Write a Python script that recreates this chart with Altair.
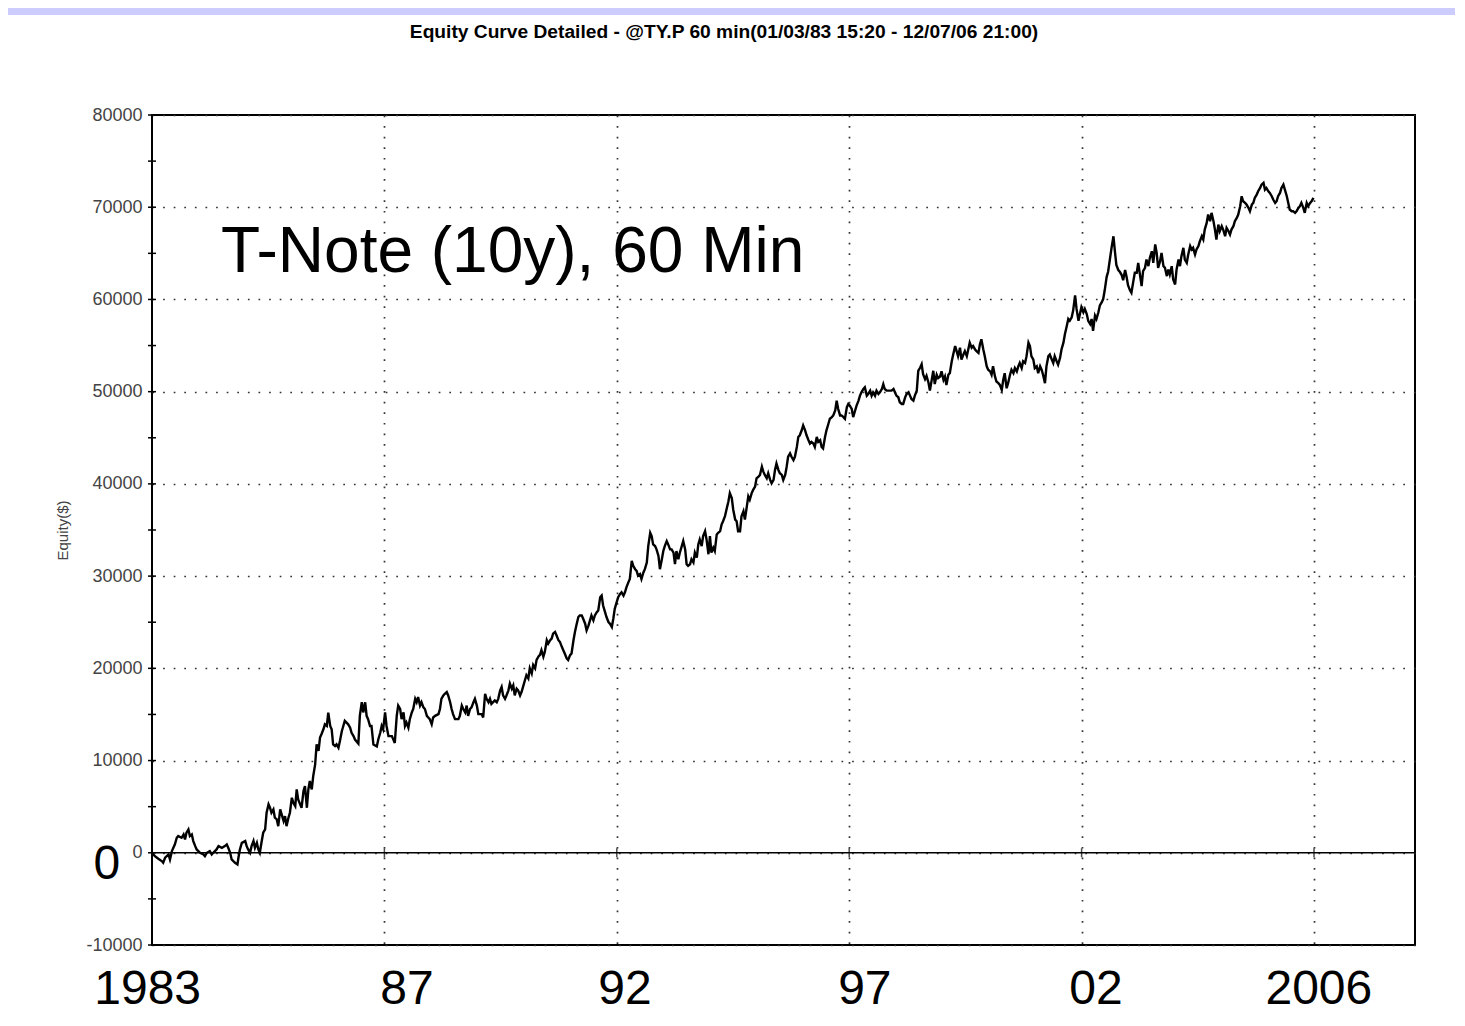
import altair as alt
import pandas as pd

# ---------------- data ----------------
years_a = [1983.00, 1983.06, 1983.13, 1983.20, 1983.23, 1983.27, 1983.34, 1983.37, 1983.41, 1983.44,
           1983.47, 1983.51, 1983.54, 1983.61, 1983.65, 1983.68, 1983.71, 1983.75, 1983.78, 1983.82,
           1983.85, 1983.89, 1983.92, 1983.99, 1984.06, 1984.09, 1984.13, 1984.19, 1984.23, 1984.26,
           1984.33, 1984.37, 1984.44, 1984.50, 1984.54, 1984.57, 1984.61, 1984.64, 1984.71, 1984.76,
           1984.78, 1984.81, 1984.85, 1984.92, 1984.95, 1984.98, 1985.02, 1985.05, 1985.09, 1985.12,
           1985.16, 1985.19, 1985.22, 1985.26, 1985.29, 1985.33, 1985.36, 1985.40, 1985.43, 1985.46,
           1985.50, 1985.53, 1985.57, 1985.60, 1985.64, 1985.67, 1985.71, 1985.74, 1985.77, 1985.81,
           1985.84, 1985.88, 1985.91, 1985.95, 1985.98, 1986.01, 1986.08, 1986.12, 1986.15, 1986.19,
           1986.22, 1986.25, 1986.29, 1986.32, 1986.36, 1986.39, 1986.43, 1986.46, 1986.49, 1986.53,
           1986.56, 1986.60, 1986.63, 1986.67, 1986.70, 1986.73, 1986.77, 1986.80, 1986.84, 1986.87,
           1986.91, 1986.94]
equity_a = [0, -370, -650, -900, -1080, -540, -180, -720, 180, 540,
            900, 1630, 1810, 1630, 1990, 1450, 2170, 2530, 1810, 1990,
            1270, 720, 360, 0, -180, -370, 0, 180, -180, 0,
            360, 720, 540, 720, 900, 540, 0, -720, -1080, -1270,
            -540, 360, 1080, 1270, 720, 360, 0, 720, 1270, 540,
            1080, 360, 0, 1270, 2170, 2530, 4340, 5250, 4880, 4340,
            4700, 3800, 3620, 2890, 4700, 4160, 3440, 3980, 2890, 3800,
            4340, 5970, 5430, 5060, 6870, 5790, 4880, 6690, 7240, 4880,
            6870, 7780, 6870, 8320, 9590, 11760, 11040, 12490, 12850, 13390,
            13930, 13750, 15200, 13750, 13390, 11760, 11580, 11760, 11400, 12120,
            13210, 13750]

years_b = [1986.97, 1987.04, 1987.08, 1987.11, 1987.15, 1987.18, 1987.25, 1987.28, 1987.32, 1987.35,
           1987.39, 1987.42, 1987.45, 1987.49, 1987.52, 1987.56, 1987.63, 1987.66, 1987.70, 1987.73,
           1987.76, 1987.80, 1987.83, 1987.87, 1987.94, 1988.00, 1988.04, 1988.07, 1988.11, 1988.14,
           1988.18, 1988.21, 1988.24, 1988.28, 1988.31, 1988.35, 1988.38, 1988.42, 1988.45, 1988.48,
           1988.52, 1988.55, 1988.59, 1988.62, 1988.66, 1988.69, 1988.72, 1988.76, 1988.79, 1988.83,
           1988.90, 1988.93, 1988.96, 1989.00, 1989.03, 1989.07, 1989.10, 1989.14, 1989.17, 1989.20,
           1989.24, 1989.31, 1989.34, 1989.38, 1989.41, 1989.45, 1989.48, 1989.51, 1989.55, 1989.58,
           1989.62, 1989.65, 1989.69, 1989.72, 1989.79, 1989.82, 1989.86, 1989.89, 1989.93, 1989.96,
           1989.99, 1990.06, 1990.10, 1990.13, 1990.17, 1990.20, 1990.23, 1990.27, 1990.30, 1990.34,
           1990.37, 1990.41, 1990.44, 1990.47, 1990.51, 1990.54, 1990.58, 1990.61, 1990.65, 1990.68,
           1990.71, 1990.75, 1990.78, 1990.82, 1990.85, 1990.89, 1990.92, 1990.96, 1990.99]
equity_b = [14300, 13930, 13570, 13010, 12650, 12280, 11840, 14850, 16320, 15220,
            16320, 14850, 14490, 13750, 13750, 11730, 11540, 12280, 13010, 13750,
            13380, 15220, 13750, 12650, 12650, 11910, 14850, 15960, 15590, 14490,
            15220, 13750, 14120, 13570, 14490, 15220, 15590, 16690, 16320, 16880,
            15960, 16320, 15770, 15590, 14850, 14670, 14490, 13930, 14670, 14850,
            15040, 15590, 16690, 17060, 17240, 17430, 17060, 16320, 15590, 15040,
            14490, 14490, 14850, 15960, 15590, 15220, 15960, 14850, 15590, 15770,
            16320, 16690, 15960, 15040, 15040, 14670, 17240, 16690, 16320, 16690,
            16140, 16510, 16320, 16690, 17610, 17980, 17060, 16690, 17060, 17610,
            18350, 17790, 18160, 17060, 17790, 17610, 17060, 17430, 18160, 18710,
            19260, 18900, 20000, 19450, 20370, 20000, 20920, 21290, 21470]

years_c = [1991.02, 1991.06, 1991.09, 1991.13, 1991.16, 1991.20, 1991.23, 1991.26, 1991.30, 1991.33,
           1991.37, 1991.40, 1991.44, 1991.47, 1991.50, 1991.54, 1991.57, 1991.61, 1991.64, 1991.68,
           1991.71, 1991.74, 1991.78, 1991.81, 1991.85, 1991.88, 1991.92, 1991.95, 1991.99, 1992.02,
           1992.05, 1992.09, 1992.12, 1992.16, 1992.19, 1992.23, 1992.26, 1992.29, 1992.33, 1992.36,
           1992.40, 1992.43, 1992.47, 1992.50, 1992.53, 1992.57, 1992.60, 1992.64, 1992.67, 1992.71,
           1992.74, 1992.77, 1992.81, 1992.84, 1992.88, 1992.91, 1992.95, 1992.98, 1993.01, 1993.05,
           1993.08, 1993.12, 1993.15, 1993.19, 1993.22, 1993.26, 1993.29, 1993.32, 1993.36, 1993.39,
           1993.43, 1993.46, 1993.50, 1993.53, 1993.56, 1993.60, 1993.63, 1993.67, 1993.70, 1993.74,
           1993.77, 1993.80, 1993.84, 1993.87, 1993.91, 1993.94, 1993.98, 1994.01, 1994.04, 1994.08,
           1994.11, 1994.15, 1994.18, 1994.22, 1994.25, 1994.28, 1994.32, 1994.35, 1994.39, 1994.42,
           1994.46, 1994.49, 1994.52, 1994.56, 1994.59, 1994.63, 1994.66, 1994.70, 1994.73, 1994.76,
           1994.80, 1994.83, 1994.87, 1994.90, 1994.94, 1994.97, 1995.01, 1995.04, 1995.07, 1995.11]
equity_c = [21970, 21250, 21790, 23050, 22690, 23050, 23230, 23760, 23940, 23580,
            23050, 22870, 22330, 21970, 21610, 21080, 20900, 21430, 21610, 23050,
            23940, 24660, 25560, 25730, 25730, 25380, 24840, 24120, 24660, 25200,
            25730, 25200, 25730, 26090, 26270, 27710, 27890, 26810, 26090, 25560,
            25020, 24840, 24480, 25380, 26450, 27170, 27710, 28060, 28240, 27890,
            28240, 28780, 29320, 29680, 31650, 31110, 30750, 30570, 30040, 30220,
            29680, 30390, 30750, 31470, 33260, 34700, 34340, 33440, 33260, 32900,
            32190, 30750, 31830, 32720, 33260, 33800, 33440, 32900, 32900, 32540,
            31290, 32720, 31830, 32540, 33260, 33800, 32900, 31290, 31110, 31290,
            31830, 31470, 32540, 32010, 33440, 33980, 33260, 34340, 34870, 33980,
            32370, 34340, 32540, 33080, 32720, 34520, 34700, 34870, 35590, 35950,
            36490, 37200, 38100, 39000, 38460, 37200, 36130, 35950, 34870, 34870]

years_d = [1995.14, 1995.18, 1995.21, 1995.25, 1995.28, 1995.31, 1995.35, 1995.38, 1995.42, 1995.45,
           1995.49, 1995.52, 1995.56, 1995.59, 1995.62, 1995.66, 1995.69, 1995.73, 1995.76, 1995.80,
           1995.83, 1995.86, 1995.90, 1995.93, 1995.97, 1996.00, 1996.04, 1996.07, 1996.10, 1996.14,
           1996.17, 1996.21, 1996.24, 1996.28, 1996.31, 1996.34, 1996.38, 1996.41, 1996.45, 1996.48,
           1996.52, 1996.55, 1996.58, 1996.62, 1996.65, 1996.69, 1996.72, 1996.76, 1996.79, 1996.82,
           1996.86, 1996.89, 1996.93, 1996.96, 1997.00, 1997.03, 1997.07, 1997.10, 1997.13, 1997.17,
           1997.20, 1997.24, 1997.27, 1997.31, 1997.34, 1997.37, 1997.41, 1997.44, 1997.48, 1997.51,
           1997.55, 1997.58, 1997.61, 1997.65, 1997.68, 1997.72, 1997.75, 1997.79, 1997.82, 1997.85,
           1997.89, 1997.92, 1997.96, 1997.99, 1998.03, 1998.06, 1998.09, 1998.13, 1998.16, 1998.23,
           1998.27, 1998.30, 1998.33, 1998.37, 1998.40, 1998.44, 1998.47, 1998.51, 1998.54, 1998.58,
           1998.61, 1998.64, 1998.68, 1998.71, 1998.75, 1998.78, 1998.82, 1998.85, 1998.88, 1998.92,
           1998.95, 1998.99, 1999.02, 1999.06, 1999.09, 1999.12]
equity_d = [36490, 37030, 36130, 37560, 38640, 38280, 39000, 39350, 39710, 40610,
            40790, 40970, 41860, 41330, 40970, 40610, 41150, 40430, 40070, 40430,
            41510, 42220, 41510, 41150, 40970, 40430, 40970, 41860, 42940, 43300,
            42940, 42580, 42940, 44010, 45090, 45270, 45810, 46340, 45810, 45270,
            44730, 44370, 44550, 44370, 44010, 45090, 44550, 44730, 44010, 43840,
            45090, 45810, 46520, 47060, 47240, 47420, 47960, 49030, 48140, 47420,
            47420, 47240, 47060, 48320, 48670, 48490, 48140, 47240, 47960, 48490,
            49030, 49570, 49930, 50290, 50470, 49570, 49750, 50110, 49570, 49930,
            49570, 50110, 49750, 49930, 50290, 50820, 50290, 50110, 50110, 50110,
            50290, 49930, 49570, 49390, 48850, 48670, 48670, 49390, 49750, 49930,
            49570, 49210, 49030, 49570, 50110, 52260, 52620, 52970, 51900, 51360,
            51720, 51000, 50110, 51360, 52260, 50820]

years_e = [1999.16, 1999.19, 1999.23, 1999.26, 1999.30, 1999.33, 1999.36, 1999.40, 1999.43, 1999.47,
           1999.50, 1999.54, 1999.57, 1999.60, 1999.64, 1999.67, 1999.71, 1999.74, 1999.78, 1999.81,
           1999.84, 1999.88, 1999.91, 1999.95, 1999.98, 2000.02, 2000.05, 2000.08, 2000.12, 2000.15,
           2000.19, 2000.22, 2000.26, 2000.29, 2000.32, 2000.36, 2000.39, 2000.43, 2000.46, 2000.50,
           2000.53, 2000.56, 2000.60, 2000.63, 2000.67, 2000.70, 2000.74, 2000.77, 2000.81, 2000.84,
           2000.87, 2000.91, 2000.94, 2000.98, 2001.01, 2001.05, 2001.08, 2001.11, 2001.15, 2001.18,
           2001.22, 2001.25, 2001.29, 2001.32, 2001.35, 2001.39, 2001.42, 2001.46, 2001.49, 2001.53,
           2001.56, 2001.59, 2001.63, 2001.66, 2001.70, 2001.73, 2001.77, 2001.80, 2001.84, 2001.87,
           2001.90, 2001.94, 2001.97, 2002.01, 2002.04, 2002.08, 2002.11, 2002.14, 2002.18, 2002.21,
           2002.25, 2002.28, 2002.32, 2002.35, 2002.38, 2002.42, 2002.45, 2002.49, 2002.52, 2002.56,
           2002.59, 2002.62, 2002.66, 2002.69, 2002.73, 2002.76, 2002.80, 2002.83, 2002.86, 2002.90,
           2002.93, 2002.97, 2003.00, 2003.04, 2003.07, 2003.10, 2003.14]
equity_e = [51830, 51470, 51650, 52200, 51280, 51650, 50730, 51830, 52010, 53300,
            54030, 54950, 54400, 53850, 54760, 53480, 54030, 54400, 53850, 54580,
            55310, 54760, 54950, 54580, 54400, 54210, 55130, 55680, 54580, 53850,
            52750, 52380, 52200, 51830, 52750, 51650, 51100, 50920, 50730, 50180,
            51280, 52010, 50370, 50920, 51830, 52380, 52010, 52560, 52200, 52750,
            53110, 52560, 53300, 53110, 53850, 55310, 54950, 53850, 53480, 52560,
            52750, 52010, 52750, 52380, 51830, 50920, 52750, 53850, 54030, 53480,
            53110, 53850, 53300, 52930, 53660, 54580, 55310, 56230, 57140, 57880,
            57690, 58060, 58790, 60440, 58970, 57690, 58420, 59160, 58610, 58970,
            58420, 57690, 57330, 57880, 56590, 58240, 57880, 58610, 59340, 59710,
            60070, 60990, 62450, 63000, 64470, 65570, 66850, 65200, 63740, 63190,
            63000, 62640, 62090, 63190, 62450, 61540, 60990]

years_f = [2003.17, 2003.21, 2003.24, 2003.28, 2003.31, 2003.35, 2003.38, 2003.41, 2003.45, 2003.48,
           2003.52, 2003.55, 2003.59, 2003.62, 2003.66, 2003.69, 2003.72, 2003.76, 2003.79, 2003.83,
           2003.86, 2003.90, 2003.93, 2003.96, 2004.00, 2004.03, 2004.07, 2004.10, 2004.14, 2004.17,
           2004.20, 2004.24, 2004.27, 2004.31, 2004.34, 2004.38, 2004.41, 2004.44, 2004.48, 2004.51,
           2004.55, 2004.58, 2004.62, 2004.65, 2004.68, 2004.72, 2004.75, 2004.79, 2004.82, 2004.86,
           2004.89, 2004.92, 2004.96, 2004.99, 2005.03, 2005.06, 2005.10, 2005.13, 2005.17, 2005.20,
           2005.23, 2005.27, 2005.30, 2005.34, 2005.37, 2005.41, 2005.44, 2005.47, 2005.51, 2005.54,
           2005.58, 2005.61, 2005.65, 2005.68, 2005.71, 2005.75, 2005.78, 2005.82, 2005.85, 2005.89,
           2005.92, 2005.95, 2005.99, 2006.02, 2006.06, 2006.09, 2006.13, 2006.16, 2006.19, 2006.23,
           2006.26, 2006.30, 2006.33, 2006.37, 2006.40, 2006.43, 2006.47, 2006.50, 2006.54, 2006.57,
           2006.61, 2006.64, 2006.67, 2006.71, 2006.74, 2006.78, 2006.81, 2006.85, 2006.88, 2006.92]
equity_f = [60720, 61990, 62890, 62890, 63970, 62530, 61440, 63070, 63430, 64330,
            63610, 64510, 65230, 63970, 65960, 65050, 63430, 64150, 65050, 63610,
            63430, 62530, 63250, 62710, 63610, 62170, 61620, 63250, 64330, 63610,
            64690, 65600, 64330, 63970, 64870, 65780, 65420, 65600, 64870, 65420,
            65780, 66320, 66860, 66500, 67580, 68300, 69210, 68480, 69390, 68480,
            67580, 66500, 68120, 67400, 67940, 67580, 66860, 67760, 67400, 67040,
            67580, 67940, 68480, 68840, 69210, 70110, 71190, 70650, 70470, 70290,
            69930, 69570, 70290, 70470, 71010, 71370, 71730, 72090, 72450, 72640,
            71910, 72090, 71730, 71550, 71190, 70830, 70470, 70650, 71190, 71550,
            72090, 72450, 71910, 71190, 70470, 69750, 69570, 69570, 69390, 69570,
            69930, 70110, 70470, 69930, 69390, 70470, 70110, 70470, 70650, 71010]

y_label_values = [-10000, 0, 10000, 20000, 30000, 40000, 50000, 60000, 70000, 80000]
y_tick_marks = [-10000, -5000, 0, 5000, 10000, 15000, 20000, 25000, 30000, 35000,
                40000, 45000, 50000, 55000, 60000, 65000, 70000, 75000, 80000]
x_grid = [1987.786, 1992.572, 1997.358, 2002.144, 2006.93]

big_labels = ["1983", "87", "92", "97", "02", "2006"]
big_label_years = [1982.91, 1988.25, 1992.74, 1997.68, 2002.44, 2007.03]

title_text = "Equity Curve Detailed - @TY.P 60 min(01/03/83 15:20 - 12/07/06 21:00)"
caption_text = "T-Note (10y), 60 Min"

# ---------------- chart ----------------
years = years_a + years_b + years_c + years_d + years_e + years_f
equity = equity_a + equity_b + equity_c + equity_d + equity_e + equity_f
curve = pd.DataFrame({"year": years, "equity": equity})

FONT = "Liberation Sans"
dots = [1.7, 8.9]

x_enc = alt.X(
    "year:Q",
    scale=alt.Scale(domain=[1983.0, 2009.01], nice=False, zero=False),
    axis=alt.Axis(values=x_grid, grid=True, labels=False, ticks=False, domain=False,
                  title=None, gridDash=dots, gridColor="#333333", gridWidth=1.7),
)
y_enc = alt.Y(
    "equity:Q",
    scale=alt.Scale(domain=[-10000, 80000], nice=False, zero=False),
    axis=alt.Axis(values=y_label_values, grid=True, ticks=False, tickSize=0,
                  labelExpr="datum.value < 0 ? '-' + toString(abs(datum.value)) : toString(datum.value)",
                  domain=False, labelPadding=10, labelFontSize=18, labelColor="#444444",
                  labelFont=FONT, title="Equity($)", titleFont=FONT, titleFontSize=15,
                  titleFontWeight="normal", titleColor="#444444", titlePadding=15,
                  gridDash=dots, gridColor="#333333", gridWidth=1.7),
)

band = alt.Chart(pd.DataFrame({"k": [0]})).mark_rect(color="#ccccff").encode(
    x=alt.value(-144), x2=alt.value(1303), y=alt.value(-107), y2=alt.value(-100)
)

line = alt.Chart(curve).mark_line(color="black", strokeWidth=2.4).encode(x=x_enc, y=y_enc)

zero_rule = alt.Chart(pd.DataFrame({"equity": [0]})).mark_rule(
    color="black", strokeWidth=1.5
).encode(y="equity:Q")

y_ticks = alt.Chart(pd.DataFrame({"equity": y_tick_marks})).mark_rule(
    color="black", strokeWidth=1.5
).encode(y="equity:Q", x=alt.value(-4), x2=alt.value(4))

zero_cross = alt.Chart(pd.DataFrame({"year": x_grid, "equity": [0] * len(x_grid)})).mark_tick(
    orient="vertical", size=9, thickness=1.5, color="black"
).encode(x="year:Q", y="equity:Q")

title_layer = alt.Chart(pd.DataFrame({"year": [1994.78], "equity": [88400], "t": [title_text]})).mark_text(
    font=FONT, fontSize=19.2, fontWeight="bold", align="center", baseline="alphabetic", color="black"
).encode(x="year:Q", y="equity:Q", text="t:N")

caption_layer = alt.Chart(pd.DataFrame({"year": [1984.42], "equity": [63000], "t": [caption_text]})).mark_text(
    font=FONT, fontSize=64, align="left", baseline="alphabetic", color="black"
).encode(x="year:Q", y="equity:Q", text="t:N")

zero_label = alt.Chart(pd.DataFrame({"year": [1982.07], "equity": [-2790], "t": ["0"]})).mark_text(
    font=FONT, fontSize=48, align="center", baseline="alphabetic", color="black"
).encode(x="year:Q", y="equity:Q", text="t:N")

year_layer = alt.Chart(pd.DataFrame({"year": big_label_years, "equity": [-16450] * len(big_labels),
                                     "t": big_labels})).mark_text(
    font=FONT, fontSize=48, align="center", baseline="alphabetic", color="black"
).encode(x="year:Q", y="equity:Q", text="t:N")

chart = alt.layer(
    band, line, zero_rule, y_ticks, zero_cross, title_layer, caption_layer, zero_label, year_layer
).properties(
    width=1263,
    height=830,
    autosize=alt.AutoSizeParams(type="none"),
    padding={"left": 144, "top": 107, "right": 40, "bottom": 70},
    background="white",
).configure_view(stroke="black", strokeWidth=2)

chart.save("out.html", embed_options={"renderer": "svg", "actions": False})
